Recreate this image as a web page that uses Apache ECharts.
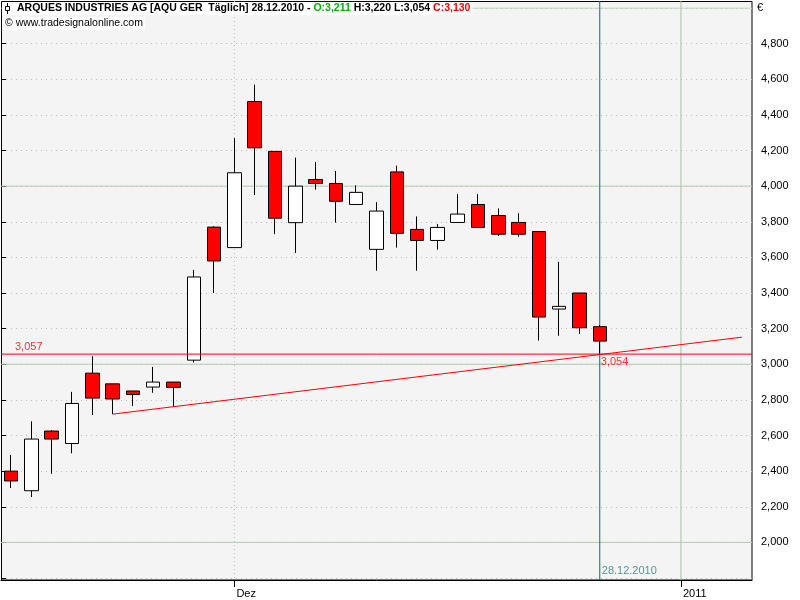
<!DOCTYPE html>
<html>
<head>
<meta charset="utf-8">
<script src="https://cdn.jsdelivr.net/npm/echarts@6/dist/echarts.min.js"></script>
<style>html,body{margin:0;padding:0;background:#fff}#c{width:800px;height:600px}</style>
</head>
<body>
<div id="c"></div>
<script>
// ---- data ----
const dates = ['2010-11-16','2010-11-17','2010-11-18','2010-11-19','2010-11-22','2010-11-23','2010-11-24','2010-11-25','2010-11-26','2010-11-29','2010-11-30',
  '2010-12-01','2010-12-02','2010-12-03','2010-12-06','2010-12-07','2010-12-08','2010-12-09','2010-12-10','2010-12-13','2010-12-14','2010-12-15','2010-12-16','2010-12-17','2010-12-20','2010-12-21','2010-12-22','2010-12-23','2010-12-27','2010-12-28',
  '2010-12-29','2010-12-30','2010-12-31','2011-01-03','2011-01-04','2011-01-05','2011-01-06'];
const opens  = [2.400,2.290,2.625,2.555,2.950,2.890,2.850,2.872,2.900,3.023,3.770,3.655,4.475,4.195,3.795,4.037,4.015,3.897,3.645,4.080,3.757,3.695,3.796,3.897,3.835,3.796,3.745,3.310,3.400,3.211];
const closes = [2.345,2.580,2.580,2.780,2.810,2.805,2.830,2.900,2.870,3.490,3.580,4.075,4.215,3.820,4.000,4.015,3.915,3.965,3.860,3.735,3.695,3.768,3.843,3.768,3.730,3.730,3.265,3.325,3.205,3.130];
const lows   = [2.305,2.255,2.385,2.500,2.715,2.720,2.765,2.840,2.760,3.010,3.400,3.655,3.950,3.730,3.625,3.980,3.795,3.897,3.525,3.655,3.525,3.643,3.796,3.768,3.720,3.716,3.133,3.160,3.170,3.054];
const highs  = [2.490,2.680,2.630,2.845,3.045,2.890,2.850,2.985,2.900,3.530,3.775,4.270,4.570,4.195,4.160,4.135,4.085,4.005,3.910,4.115,3.830,3.787,3.955,3.955,3.875,3.848,3.745,3.575,3.400,3.220];
const xLabels = {'2010-12-01':'Dez','2011-01-03':'2011'};
const supportLevel = 3.057;
const trendStart = ['2010-11-23', 2.720];
const trendEnd   = ['2011-01-06', 3.152];
const trendAtLast = 3.054;
const lastDate = '2010-12-28';
const yMin = 1.8, yMax = 5.0, yStep = 0.2;
const solidLevels = [2.0, 3.0, 4.0, 5.0];
const frameTop = 5.039, frameBottom = 1.789;

// ---- helpers ----
const fmt = v => v.toFixed(3).replace('.', ',');
const FONT = 'Liberation Sans';
const candleData = opens.map((o, i) => [o, closes[i], lows[i], highs[i]]);
const n = opens.length - 1;

function vline(date, color, type, z) {
  return {
    type: 'line', data: [[date, frameTop], [date, frameBottom]], clip: false,
    symbol: 'none', silent: true, z: z || 1, animation: false, color: color,
    lineStyle: { color: color, width: 1, type: type || 'solid' }
  };
}
function hline(level, color, z) {
  return {
    type: 'line', xAxisIndex: 1, data: [[0, level], [1, level]], symbol: 'none', silent: true,
    z: z || 1, animation: false, color: color, lineStyle: { color: color, width: 1, type: 'solid' }
  };
}

const chart = echarts.init(document.getElementById('c'), null, { renderer: 'canvas' });
chart.setOption({
  animation: false,
  backgroundColor: '#ffffff',
  graphic: [
    { type: 'rect', z: -100, silent: true,
      shape: { x: 1.5, y: 1.5, width: 750.5, height: 578.5 },
      style: { fill: '#f4f4f4', stroke: '#000000', lineWidth: 1 } },
    { type: 'line', z: 100, silent: true, shape: { x1: 7.5, y1: 3, x2: 7.5, y2: 14 }, style: { stroke: '#000', lineWidth: 1 } },
    { type: 'rect', z: 101, silent: true, shape: { x: 5.5, y: 6.5, width: 4, height: 4 }, style: { fill: '#fff', stroke: '#000', lineWidth: 1 } },
    { type: 'text', z: 100, silent: true, left: 757, top: 2,
      style: { text: '€', fill: '#000', font: '11px "Liberation Sans"' } }
  ],
  title: [
    {
      text: '{a|ARQUES INDUSTRIES AG [AQU GER  Täglich] 28.12.2010 - }{g|O:' + fmt(opens[n]) + '}{a| H:' + fmt(highs[n]) + ' L:' + fmt(lows[n]) + ' }{r|C:' + fmt(closes[n]) + '}',
      left: 2, top: 2, padding: [1, 2, 1, 15], backgroundColor: '#ffffff', z: 50,
      textStyle: { rich: {
        a: { color: '#000', fontSize: 10.5, fontFamily: FONT },
        g: { color: '#00b400', fontSize: 10.5, fontFamily: FONT },
        r: { color: '#ff0000', fontSize: 10.5, fontFamily: FONT }
      } }
    },
    {
      text: '© www.tradesignalonline.com',
      left: 2, top: 17, padding: [1, 2, 1, 3], backgroundColor: '#ffffff', z: 50,
      textStyle: { color: '#000', fontSize: 10.5, fontWeight: 'normal', fontFamily: FONT }
    }
  ],
  grid: { left: 1, right: 48, top: 8, bottom: 22, containLabel: false },
  xAxis: [{
    type: 'category', data: dates, boundaryGap: true, offset: 2,
    axisLine: { show: true, lineStyle: { color: '#000', width: 1 } },
    axisTick: { show: true, alignWithLabel: true, length: 7, interval: (i, v) => v in xLabels, lineStyle: { color: '#000' } },
    axisLabel: { show: true, interval: (i, v) => v in xLabels, formatter: v => xLabels[v] || '',
      align: 'left', margin: 8, padding: [0, 0, 0, 2], color: '#000', fontSize: 11, fontFamily: FONT },
    splitLine: { show: false }
  }, {
    type: 'value', min: 0, max: 1, show: false, gridIndex: 0
  }],
  yAxis: {
    type: 'value', position: 'right', min: yMin, max: yMax, interval: yStep, scale: true,
    axisLine: { show: false },
    axisTick: { show: true, length: 5, lineStyle: { color: '#000' } },
    axisLabel: { margin: 9, color: '#000', fontSize: 11, fontFamily: FONT,
      formatter: v => { const r = Math.round(v * 10) / 10; return (r < 1.95 || r > 4.85) ? '' : fmt(r); } },
    splitLine: { show: true, lineStyle: { color: '#bdbdbd', width: 1, type: [1, 4] } }
  },
  series: [
    vline('2010-12-01', '#a8c4a8', [1, 3], 1),
    vline('2011-01-03', '#a8c2a8', 'solid', 1),
    ...solidLevels.map(v => hline(v, '#b0ccb0', 1)),
    vline(lastDate, '#0f6b6b', 'solid', 3),
    {
      type: 'candlestick', data: candleData, barWidth: 14, z: 4,
      itemStyle: { color: '#ffffff', color0: '#ff0000', borderColor: '#000000', borderColor0: '#000000', borderColorDoji: '#000000', borderWidth: 1 }
    },
    {
      type: 'line', data: [trendStart, trendEnd], symbol: 'none', silent: true, z: 6, color: '#ff0000',
      lineStyle: { color: '#ff0000', width: 1 }
    },
    hline(supportLevel, '#ff0000', 6),
    {
      type: 'scatter', xAxisIndex: 1, symbolSize: 0, silent: true, z: 7, clip: false,
      data: [
        { value: [0, supportLevel], label: { show: true, formatter: fmt(supportLevel), position: 'right', distance: 14, offset: [0, -7], color: '#ff0000', fontSize: 11, fontFamily: FONT } }
      ]
    },
    {
      type: 'scatter', symbolSize: 0, silent: true, z: 7, clip: false,
      data: [
        { value: [lastDate, trendAtLast], label: { show: true, formatter: fmt(trendAtLast), position: 'right', distance: 1, offset: [0, 7], color: '#ff0000', fontSize: 11, fontFamily: FONT } },
        { value: [lastDate, frameBottom], label: { show: true, formatter: '28.12.2010', position: 'right', distance: 2, offset: [0, -9], color: '#2f7a7a', fontSize: 11, fontFamily: FONT } }
      ]
    }
  ]
});
</script>
</body>
</html>
